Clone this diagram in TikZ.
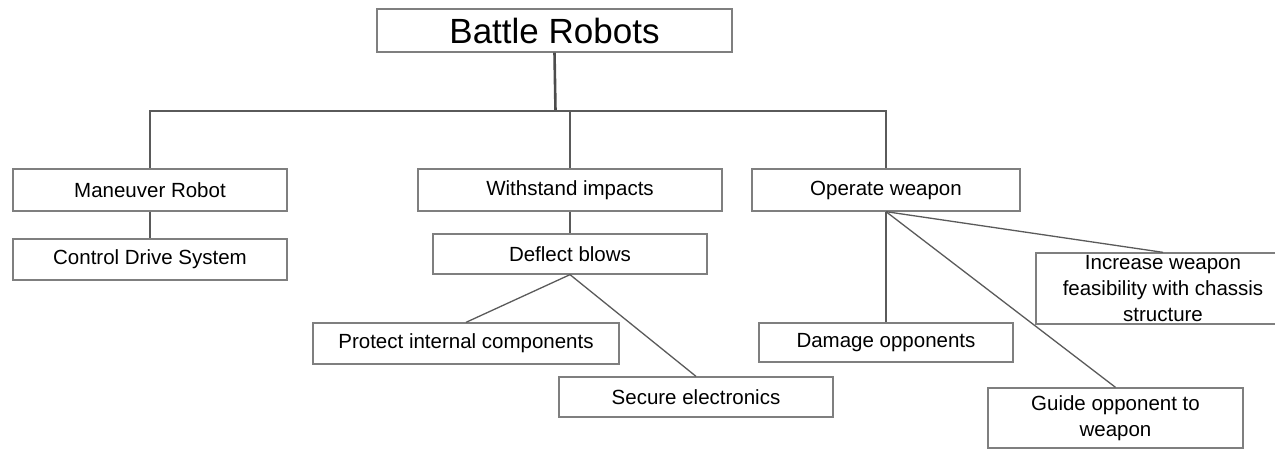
\documentclass[tikz,border=0pt]{standalone}
\usepackage{fontspec}
\setmainfont{Liberation Sans}
\definecolor{boxgray}{HTML}{7F7F7F}
\definecolor{linkgray}{HTML}{5A5A5A}
\tikzset{
  box/.style={draw=boxgray, line width=1.3pt, fill=white, inner sep=0pt, align=center,
    font=\fontsize{20.5}{26}\selectfont},
  link/.style={draw=linkgray, line width=1.3pt},
}
\begin{document}
\begin{tikzpicture}[x=1pt, y=-1pt]
            \useasboundingbox (0,0) rectangle (1275,449);
            \node[box, minimum width=355, minimum height=43, font=\fontsize{35}{40}\selectfont] (top) at (554.5, 30.5) {Battle Robots};

            \node[box, minimum width=274, minimum height=42] (mr) at (150, 190) {Maneuver Robot};
            \node[box, minimum width=274, minimum height=41] (cds) at (150, 259.5) {Control Drive System};

            \node[box, minimum width=304, minimum height=42] (wi) at (570, 190) {Withstand impacts};
            \node[box, minimum width=274, minimum height=40] (db) at (570, 254) {Deflect blows};
            \node[box, minimum width=306, minimum height=41] (pic) at (466, 343.5) {Protect internal components};
            \node[box, minimum width=274, minimum height=40] (se) at (696, 397) {Secure electronics};

            \node[box, minimum width=268, minimum height=42] (ow) at (886, 190) {Operate weapon};
            \node[box, minimum width=254, minimum height=39] (dop) at (886, 342.5) {Damage opponents};
            \node[box, minimum width=254, minimum height=71] (inc) at (1163, 288.5) {Increase weapon\\feasibility with chassis\\structure};
            \node[box, minimum width=255, minimum height=60] (gow) at (1115.5, 418) {Guide opponent to\\weapon};

            \coordinate (hub) at (555.5, 111);

            \draw[link, line width=2.6pt, draw=black!70] (top.south) -- (hub);
            \draw[link] (hub) -| (mr.north);
            \draw[link] (hub) -| (ow.north);
            \draw[link] (wi.north) -- (wi.north |- hub);
            \draw[link] (mr) -- (cds);
            \draw[link] (wi) -- (db);
            \draw[link] (db.south) -- (pic.north);
            \draw[link] (db.south) -- (se.north);
            \draw[link] (ow.south) -- (dop.north);
            \draw[link] (ow.south) -- (inc.north);
            \draw[link] (ow.south) -- (gow.north);
        \end{tikzpicture}
\end{document}
